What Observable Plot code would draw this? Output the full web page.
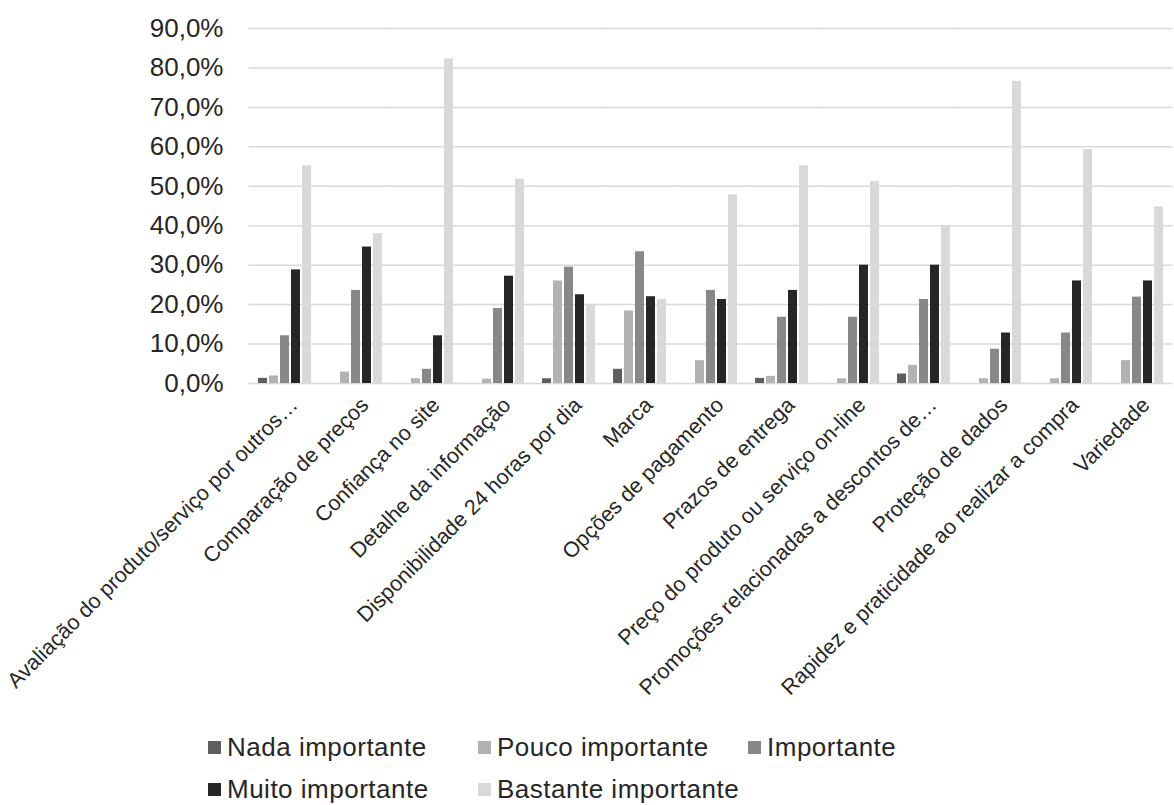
<!DOCTYPE html>
<html><head><meta charset="utf-8">
<script src="https://cdn.jsdelivr.net/npm/d3@7"></script>
<script src="https://cdn.jsdelivr.net/npm/@observablehq/plot@0.6"></script>
<style>
body{margin:0;background:#fff;font-family:"Liberation Sans",Arial,sans-serif;}
#wrap{position:relative;width:1174px;height:805px;overflow:hidden;background:#fff;}
#legend{position:absolute;left:208px;top:726px;display:grid;grid-template-columns:270px 270px 270px;grid-auto-rows:42px;}
.item{display:flex;align-items:center;font-size:26px;letter-spacing:0.5px;color:#262626;white-space:nowrap;}
.sw{width:13px;height:13px;margin-right:6px;flex:none;}
</style></head><body><div id="wrap"><div id="legend"></div></div>
<script>
const categories = [
  "Avaliação do produto/serviço por outros…",
  "Comparação de preços",
  "Confiança no site",
  "Detalhe da informação",
  "Disponibilidade 24 horas por dia",
  "Marca",
  "Opções de pagamento",
  "Prazos de entrega",
  "Preço do produto ou serviço on-line",
  "Promoções relacionadas a descontos de…",
  "Proteção de dados",
  "Rapidez e praticidade ao realizar a compra",
  "Variedade"
];
const series = ["Nada importante", "Pouco importante", "Importante", "Muito importante", "Bastante importante"];
const nada       = [1.3, 0,    0,    0,    1.2,  3.6,  0,    1.3,  0,    2.4,  0,    0,    0];
const pouco      = [1.9, 2.9,  1.2,  1.1,  26.0, 18.4, 5.8,  1.8,  1.2,  4.6,  1.2,  1.2,  5.8];
const importante = [12.1, 23.6, 3.6, 19.0, 29.5, 33.4, 23.6, 16.8, 16.8, 21.3, 8.7,  12.8, 21.9];
const muito      = [28.8, 34.6, 12.1, 27.2, 22.5, 22.0, 21.3, 23.6, 30.0, 30.0, 12.8, 26.0, 26.0];
const bastante   = [55.2, 38.0, 82.3, 51.8, 20.0, 21.3, 47.8, 55.2, 51.2, 40.0, 76.6, 59.3, 44.8];
const yTicks = [0, 10, 20, 30, 40, 50, 60, 70, 80, 90];
const colors = ["#5e5e5e", "#b2b2b2", "#888888", "#262626", "#d9d9d9"];

const valuesBySeries = [nada, pouco, importante, muito, bastante];
const data = categories.flatMap((c, i) => series.map((s, j) => ({cat: c, serie: s, value: valuesBySeries[j][i]})));
const fmt = d => d.toFixed(1).replace(".", ",") + "%";

const chart = Plot.plot({
  width: 1174, height: 805,
  marginLeft: 246, marginRight: 0, marginTop: 28, marginBottom: 422,
  style: {fontFamily: "'Liberation Sans', Arial, sans-serif", color: "#262626", background: "transparent", overflow: "visible"},
  fx: {domain: categories, paddingInner: 0.23, paddingOuter: 0.115, label: null},
  x: {domain: series, paddingInner: 0.18, paddingOuter: 0, axis: null},
  y: {domain: [0, 90], label: null},
  color: {domain: series, range: colors},
  marks: [
    Plot.ruleY(yTicks, {stroke: "#d9d9d9", strokeWidth: 1.5, insetLeft: -8.5, insetRight: -8.5}),
    Plot.barY(data.filter(d => d.value > 0), {fx: "cat", x: "serie", y: "value", fill: "serie"}),
    Plot.axisY(yTicks, {tickSize: 0, tickPadding: 34, fontSize: 26, tickFormat: fmt, label: null}),
    Plot.axisFx({anchor: "bottom", tickSize: 0, tickPadding: 18, dx: 9, tickRotate: -45, fontSize: 21.5, label: null})
  ]
});
const wrap = document.getElementById("wrap");
wrap.insertBefore(chart, wrap.firstChild);

const legend = document.getElementById("legend");
[0, 1, 2, 3, 4].forEach(j => {
  const it = document.createElement("div");
  it.className = "item";
  const sw = document.createElement("span");
  sw.className = "sw";
  sw.style.background = colors[j];
  it.appendChild(sw);
  it.appendChild(document.createTextNode(series[j]));
  legend.appendChild(it);
});
</script></body></html>
